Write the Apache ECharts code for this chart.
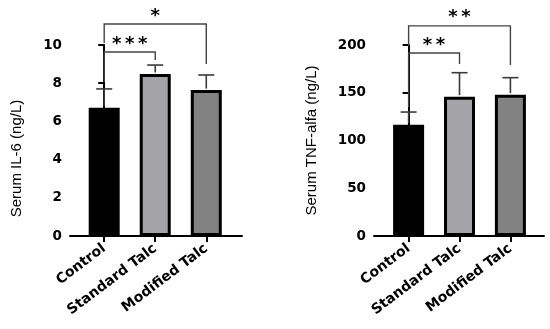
<!DOCTYPE html>
<html><head><meta charset="utf-8">
<script src="https://cdn.jsdelivr.net/npm/echarts@6/dist/echarts.min.js"></script>
<style>html,body{margin:0;padding:0;background:#fff}#c{width:550px;height:329px}</style>
</head><body><div id="c"></div>
<script>
const categories = ['Control', 'Standard Talc', 'Modified Talc'];
const il6Mean = [6.72, 8.48, 7.64];
const il6ErrTop = [7.70, 8.95, 8.43];
const tnfMean = [116.5, 145.9, 148.0];
const tnfErrTop = [129.8, 171.0, 165.8];
const il6Sig = [
  {from: 0, to: 1, line: 9.63, leftEnd: 8.06, rightEnd: 9.21, label: '***', labelY: 10.26},
  {from: 0, to: 2, line: 11.1, leftEnd: 10.1, rightEnd: 9.0, label: '*', labelY: 11.72}
];
const tnfSig = [
  {from: 0, to: 1, line: 191.6, leftEnd: 135, rightEnd: 180, label: '**', labelY: 204},
  {from: 0, to: 2, line: 220, leftEnd: 199, rightEnd: 179, label: '**', labelY: 233}
];
const yTicksIL6 = {min: 0, max: 10, interval: 2};
const yTicksTNF = {min: 0, max: 200, interval: 50};

const fills = ['#000000', '#a3a3a8', '#828282'];
const BOLD = 'DejaVu Sans, sans-serif';
const REG = 'Liberation Sans, Arial, sans-serif';

function xAxisCfg(gi, min, max) {
  return {
    type: 'value', gridIndex: gi, min: min, max: max,
    axisLine: {show: true, onZero: false, lineStyle: {color: '#000', width: 2}},
    axisTick: {show: true, customValues: [0, 1, 2], length: 6, lineStyle: {color: '#000', width: 2}},
    axisLabel: {customValues: [0, 1, 2], rotate: 37, margin: 11, color: '#000', fontWeight: 'bold',
      fontSize: 14, fontFamily: BOLD, formatter: v => categories[Math.round(v)] || ''},
    splitLine: {show: false}
  };
}
function yAxisCfg(gi, t, name, gap, pad) {
  return {
    type: 'value', gridIndex: gi, min: t.min, max: t.max, interval: t.interval,
    name: name, nameLocation: 'middle', nameGap: gap, nameRotate: 90,
    nameTextStyle: {color: '#000', fontSize: 15, fontFamily: REG, padding: pad},
    axisLine: {show: true, lineStyle: {color: '#000', width: 2}},
    axisTick: {show: true, length: 6, lineStyle: {color: '#000', width: 2}},
    axisLabel: {color: '#000', fontWeight: 'bold', fontSize: 13.5, fontFamily: BOLD, margin: 8},
    splitLine: {show: false}
  };
}
function barSeries(gi, means) {
  return {
    type: 'bar', xAxisIndex: gi, yAxisIndex: gi, barWidth: 31,
    data: means.map((m, i) => ({value: [i, m], itemStyle: {color: fills[i]}})),
    itemStyle: {borderColor: '#000', borderWidth: 3},
    emphasis: {disabled: true}, silent: true, z: 2
  };
}
function errSeries(gi, means, tops) {
  return {
    type: 'custom', xAxisIndex: gi, yAxisIndex: gi, silent: true, z: 3,
    data: means.map((m, i) => [i, m, tops[i]]),
    renderItem: function (params, api) {
      const a = api.coord([api.value(0), api.value(1)]);
      const b = api.coord([api.value(0), api.value(2)]);
      const style = {stroke: '#3a3a3a', lineWidth: 1.6};
      return {type: 'group', children: [
        {type: 'line', shape: {x1: a[0], y1: a[1] - 1.5, x2: b[0], y2: b[1]}, style: style},
        {type: 'line', shape: {x1: b[0] - 8, y1: b[1], x2: b[0] + 8, y2: b[1]}, style: style}
      ]};
    }
  };
}
function sigSeries(gi, sig) {
  return {
    type: 'custom', xAxisIndex: gi, yAxisIndex: gi, silent: true, z: 4, clip: false,
    data: sig.map(s => [s.from, s.to, s.line, s.leftEnd, s.rightEnd, s.labelY]),
    renderItem: function (params, api) {
      const s = sig[params.dataIndex];
      const pL = api.coord([s.from, s.line]);
      const pR = api.coord([s.to, s.line]);
      const lE = api.coord([s.from, s.leftEnd]);
      const rE = api.coord([s.to, s.rightEnd]);
      const lab = api.coord([(s.from + s.to) / 2, s.labelY]);
      const style = {stroke: '#444', lineWidth: 1.4, fill: null};
      const children = [
        {type: 'polyline', shape: {points: [[lE[0], lE[1]], [pL[0], pL[1]], [pR[0], pR[1]], [rE[0], rE[1]]]}, style: style}
      ];
      const n = s.label.length, pitch = 13;
      for (let k = 0; k < n; k++) {
        children.push({type: 'text', x: lab[0] + (k - (n - 1) / 2) * pitch, y: lab[1] + 4,
          style: {text: '*', fill: '#000', font: 'bold 18px ' + BOLD, align: 'center', verticalAlign: 'middle'}});
      }
      return {type: 'group', children: children};
    }
  };
}

const chart = echarts.init(document.getElementById('c'), null, {renderer: 'canvas'});
chart.setOption({
  animation: false,
  backgroundColor: '#fff',
  grid: [
    {left: 70, top: 45, width: 172, height: 191},
    {left: 374, top: 45, width: 170, height: 191}
  ],
  xAxis: [xAxisCfg(0, -0.67, 2.7), xAxisCfg(1, -0.68, 2.66)],
  yAxis: [yAxisCfg(0, yTicksIL6, 'Serum IL-6 (ng/L)', 46, [0, 36, 0, 0]),
          yAxisCfg(1, yTicksTNF, 'Serum TNF-alfa (ng/L)', 55, [0, 0, 0, 0])],
  series: [
    barSeries(0, il6Mean), errSeries(0, il6Mean, il6ErrTop), sigSeries(0, il6Sig),
    barSeries(1, tnfMean), errSeries(1, tnfMean, tnfErrTop), sigSeries(1, tnfSig)
  ]
});
</script></body></html>
